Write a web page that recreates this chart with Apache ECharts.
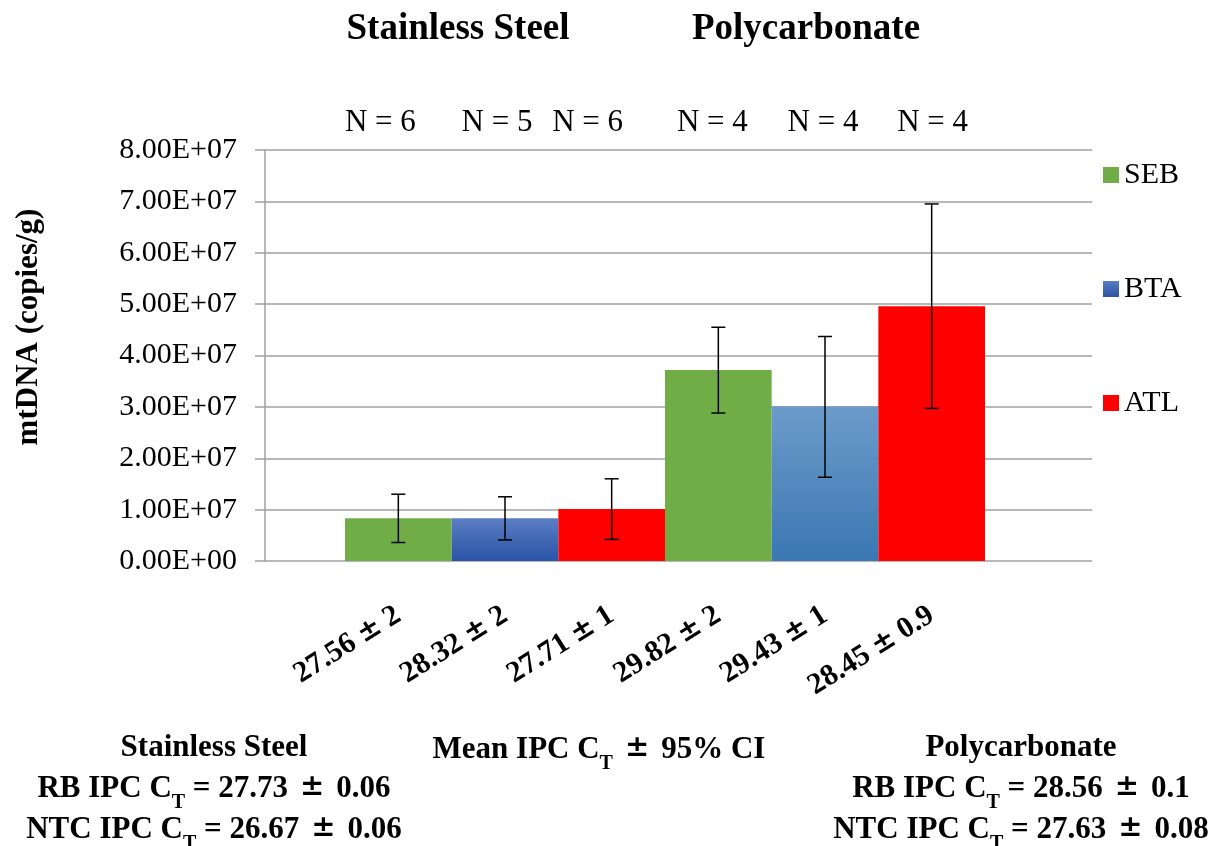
<!DOCTYPE html>
<html><head><meta charset="utf-8">
<script src="https://cdn.jsdelivr.net/npm/echarts@6/dist/echarts.min.js"></script>
<style>html,body{margin:0;padding:0;background:#fff}#c{width:1219px;height:846px}</style>
</head><body><div id="c"></div>
<script>
const categories = ['27.56 ± 2','28.32 ± 2','27.71 ± 1','29.82 ± 2','29.43 ± 1','28.45 ± 0.9'];
const nLabels = ['N = 6','N = 5','N = 6','N = 4','N = 4','N = 4'];
const seriesNames = ['SEB','BTA','ATL'];
const sebValues = [8.3e6,'-','-',3.72e7,'-','-'];
const btaValues = ['-',8.3e6,'-','-',3.01e7,'-'];
const atlValues = ['-','-',1.01e7,'-','-',4.96e7];
const errLow  = [3.6e6,4.1e6,4.2e6,2.88e7,1.63e7,2.97e7];
const errHigh = [1.30e7,1.25e7,1.60e7,4.55e7,4.37e7,6.95e7];
const yMin = 0, yMax = 8e7, yStep = 1e7;
const groupTitles = ['Stainless Steel','Polycarbonate'];
const axisTitle = 'Mean IPC C{s|T} ± 95% CI';
const leftNotes = ['Stainless Steel','RB IPC C{s|T} = 27.73 ± 0.06','NTC IPC C{s|T} = 26.67 ± 0.06'];
const rightNotes = ['Polycarbonate','RB IPC C{s|T} = 28.56 ± 0.1','NTC IPC C{s|T} = 27.63 ± 0.08'];
const yName = 'mtDNA (copies/g)';

const FONT = '"Liberation Serif","Times New Roman",serif';
const PMFONT = '"DejaVu Serif",serif';
const green = '#70AD47', red = '#FF0000';
const blueDark = {type:'linear',x:0,y:0,x2:0,y2:1,colorStops:[{offset:0,color:'#5b7dc3'},{offset:1,color:'#2a54a6'}]};
const blueLight = {type:'linear',x:0,y:0,x2:0,y2:1,colorStops:[{offset:0,color:'#6c9bca'},{offset:1,color:'#3a77b2'}]};

function sci(v){
  if (v === 0) return '0.00E+00';
  const e = Math.floor(Math.log10(Math.abs(v)));
  const m = v / Math.pow(10,e);
  return m.toFixed(2) + 'E+' + String(e).padStart(2,'0');
}
const btaData = btaValues.map((v,i)=> v==='-' ? '-' : {value:v, itemStyle:{color: i<3 ? blueDark : blueLight}});
const nShift = [[0,36,0,0],[0,16,0,0],[0,48,0,0],[0,12,0,0],[0,4,0,0],[0,0,0,2]];
const nData = nLabels.map((t,i)=>({value:t,textStyle:{padding:nShift[i]}}));

const rich = {
  a:{fontFamily:FONT,fontWeight:'bold',fontSize:31,lineHeight:34,verticalAlign:'top',fill:'#000',color:'#000'},
  p:{fontFamily:PMFONT,fontWeight:'bold',fontSize:29,lineHeight:34,verticalAlign:'top',padding:[0,12,0,12],fill:'#000',color:'#000'},
  s:{fontFamily:FONT,fontWeight:'bold',fontSize:20,lineHeight:20,verticalAlign:'top',padding:[20,0,0,0],fill:'#000',color:'#000'}
};
function wrapRich(t){
  return t.split(/(\{s\|T\}| ± )/).map(p=> p==='{s|T}' ? p : (p===' ± ' ? '{p|±}' : (p ? '{a|'+p+'}' : ''))).join('');
}
function noteText(t,x,y){
  return {type:'text',x:x,y:y,style:{text:wrapRich(t),rich:rich,align:'center',verticalAlign:'top',fontFamily:FONT,fontWeight:'bold',fontSize:31,fill:'#000'}};
}

const graphics = [
  {type:'text',x:458,y:29,style:{text:groupTitles[0],font:'bold 37px '+FONT,fill:'#000',align:'center',verticalAlign:'middle'}},
  {type:'text',x:806,y:29,style:{text:groupTitles[1],font:'bold 37px '+FONT,fill:'#000',align:'center',verticalAlign:'middle'}},
  {type:'text',x:29,y:327,rotation:Math.PI/2,style:{text:yName,font:'bold 31px '+FONT,fill:'#000',align:'center',verticalAlign:'middle'}},
  noteText(axisTitle,599,734)
];
leftNotes.forEach((t,i)=>graphics.push(noteText(t,214,732+i*41)));
rightNotes.forEach((t,i)=>graphics.push(noteText(t,1021,732+i*41)));

const chart = echarts.init(document.getElementById('c'),null,{renderer:'canvas'});
chart.setOption({
  backgroundColor:'#fff',
  animation:false,
  grid:[
    {left:265,right:127,top:150,bottom:285,containLabel:false},
    {left:345,right:234,top:150,bottom:285,containLabel:false}
  ],
  legend:{
    orient:'vertical',left:1098,top:155,itemWidth:16,itemHeight:16,itemGap:84,icon:'rect',
    data:seriesNames,
    textStyle:{fontFamily:FONT,fontSize:30,color:'#000'}
  },
  xAxis:[
    {gridIndex:0,type:'category',data:categories,show:false},
    {gridIndex:1,type:'category',data:categories,position:'bottom',
     axisLine:{show:false},axisTick:{show:false},
     axisLabel:{interval:0,rotate:32,margin:52,fontFamily:FONT,fontWeight:'bold',fontSize:30,color:'#000',
       formatter:function(v){const q=v.split(' ± ');return '{b|'+q[0]+'}{q|±}{b|'+q[1]+'}';},
       rich:{b:{fontFamily:FONT,fontWeight:'bold',fontSize:30,color:'#000'},
             q:{fontFamily:PMFONT,fontWeight:'bold',fontSize:28,color:'#000',padding:[0,7,0,7]}}}},
    {gridIndex:1,type:'category',data:nData,position:'top',
     axisLine:{show:false},axisTick:{show:false},
     axisLabel:{interval:0,margin:12,fontFamily:FONT,fontSize:31,color:'#000'}}
  ],
  yAxis:[
    {gridIndex:0,type:'value',min:yMin,max:yMax,interval:yStep,
     axisLine:{show:true,lineStyle:{color:'#a0a0a0',width:1.5}},
     axisTick:{show:true,length:10,lineStyle:{color:'#a0a0a0',width:1.5}},
     splitLine:{show:true,lineStyle:{color:'#a0a0a0',width:1.5}},
     axisLabel:{margin:28,formatter:sci,fontFamily:FONT,fontSize:30,color:'#000'}},
    {gridIndex:1,type:'value',min:yMin,max:yMax,interval:yStep,show:false}
  ],
  series:[
    {name:'SEB',type:'bar',xAxisIndex:1,yAxisIndex:1,stack:'all',barWidth:'100%',data:sebValues,itemStyle:{color:green}},
    {name:'BTA',type:'bar',xAxisIndex:1,yAxisIndex:1,stack:'all',barWidth:'100%',data:btaData,itemStyle:{color:blueDark}},
    {name:'ATL',type:'bar',xAxisIndex:1,yAxisIndex:1,stack:'all',barWidth:'100%',data:atlValues,itemStyle:{color:red}},
    {type:'custom',xAxisIndex:1,yAxisIndex:1,z:10,
     data:categories.map((c,i)=>[i,errLow[i],errHigh[i]]),
     renderItem:function(params,api){
       const lo = api.coord([api.value(0),api.value(1)]);
       const hi = api.coord([api.value(0),api.value(2)]);
       const hw = 7;
       const st = {stroke:'#000',lineWidth:1.5};
       return {type:'group',children:[
         {type:'line',shape:{x1:hi[0],y1:hi[1],x2:lo[0],y2:lo[1]},style:st},
         {type:'line',shape:{x1:hi[0]-hw,y1:hi[1],x2:hi[0]+hw,y2:hi[1]},style:st},
         {type:'line',shape:{x1:lo[0]-hw,y1:lo[1],x2:lo[0]+hw,y2:lo[1]},style:st}
       ]};
     }}
  ],
  graphic:graphics
});
</script></body></html>
